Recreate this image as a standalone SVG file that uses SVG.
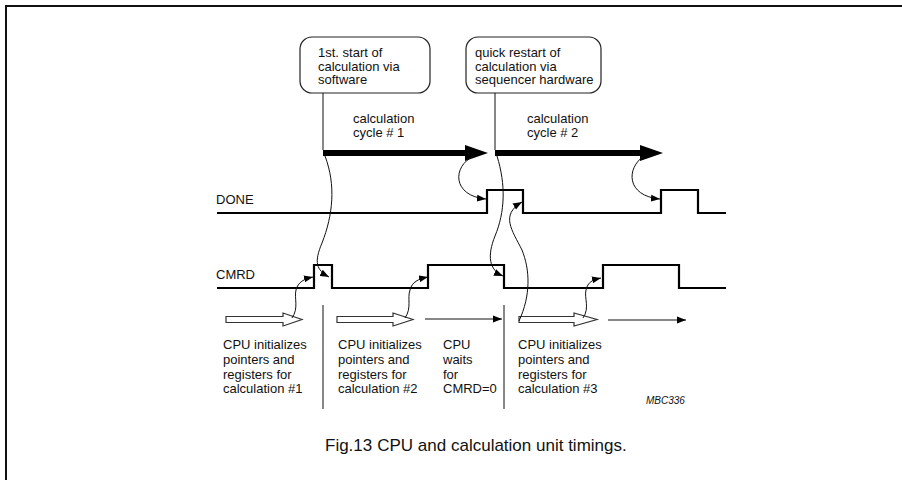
<svg xmlns="http://www.w3.org/2000/svg" width="902" height="480" viewBox="0 0 902 480">
<style>
text{font-family:"Liberation Sans",Arial,sans-serif;font-size:13px;fill:#111}
.box{fill:#fff;stroke:#222;stroke-width:1.2}
.sig{fill:none;stroke:#000;stroke-width:2.2}
.thin{fill:none;stroke:#111;stroke-width:1}
.cur{fill:none;stroke:#111;stroke-width:1;marker-end:url(#ah)}
.hol{fill:#fff;stroke:#333;stroke-width:1.2}
.thick{fill:none;stroke:#000;stroke-width:6}
</style>
<defs>
<marker id="ah" markerUnits="userSpaceOnUse" markerWidth="10" markerHeight="8" refX="9" refY="4" orient="auto">
<path d="M0,0.5 L9,4 L0,7.5 z" fill="#000"/>
</marker>
</defs>
<rect width="902" height="480" fill="#fff"/>
<g id="frame"><path d="M6,480 V6 H902" fill="none" stroke="#111" stroke-width="2"/></g>

<g id="box1"><rect class="box" x="300" y="37" width="130" height="56" rx="12"/>
<text x="318" y="57">1st. start of</text><text x="318" y="70.5">calculation via</text><text x="318" y="84">software</text></g>
<g id="box2"><rect class="box" x="466" y="37" width="135" height="56" rx="12"/>
<text x="475" y="57">quick restart of</text><text x="475" y="70.5">calculation via</text><text x="475" y="84">sequencer hardware</text></g>

<g id="cycle1"><text x="353" y="123">calculation</text><text x="353" y="137">cycle # 1</text>
<path class="thick" d="M323,153 H468"/><path d="M465,145 L488,153 L465,161 z" fill="#000"/></g>
<g id="cycle2"><text x="527" y="123">calculation</text><text x="527" y="137">cycle # 2</text>
<path class="thick" d="M495,153 H643"/><path d="M640,145 L663,153 L640,161 z" fill="#000"/></g>

<g id="done"><text x="216" y="204">DONE</text>
<path class="sig" d="M217,213 H487 V190 H523 V213 H661 V190 H698 V213 H726"/></g>
<g id="cmrd"><text x="216" y="279">CMRD</text>
<path class="sig" d="M217,288 H314 V265 H332 V288 H428 V265 H504 V288 H603 V265 H679 V288 H726"/></g>

<g id="cpu1"><path class="hol" d="M226,316.5 H283 V313 L302,319.5 L283,326 V322.5 H226 z"/>
<text x="223" y="349">CPU initializes</text><text x="223" y="364">pointers and</text><text x="223" y="378.5">registers for</text><text x="223" y="393">calculation #1</text></g>
<g id="cpu2"><path class="hol" d="M337,316.5 H393 V313 L413,319.5 L393,326 V322.5 H337 z"/>
<text x="338" y="349">CPU initializes</text><text x="338" y="364">pointers and</text><text x="338" y="378.5">registers for</text><text x="338" y="393">calculation #2</text></g>
<g id="wait"><text x="443" y="349">CPU</text><text x="443" y="364">waits</text><text x="443" y="378.5">for</text><text x="443" y="393">CMRD=0</text></g>
<g id="cpu3"><path class="hol" d="M519,316.5 H574 V313 L597,319.5 L574,326 V322.5 H519 z"/>
<text x="518" y="349">CPU initializes</text><text x="518" y="364">pointers and</text><text x="518" y="378.5">registers for</text><text x="518" y="393">calculation #3</text></g>

<g id="connectors">
<path class="thin" d="M323,93 V150"/>
<path class="thin" d="M495,93 V150"/>
<path class="thin" d="M323,305 V409"/>
<path class="thin" d="M504,305 V409"/>
<path class="cur" d="M425,319 H502"/>
<path class="cur" d="M608,320 H686"/>
<path class="cur" d="M325,156 C336,185 333,215 322,243 C314,262 316,270 329,277"/>
<path class="cur" d="M474,156 C452,166 452,196 486,199"/>
<path class="cur" d="M644,156 C626,168 626,196 660,199"/>
<path class="cur" d="M497,156 C506,185 505,212 495,236 C487,256 489,270 503,276"/>
<path class="cur" d="M519,321 C531,295 530,270 522,250 C512,230 500,215 522,202"/>
<path class="cur" d="M292,318 C299,308 294,298 296,290 C298,282 304,279 313,277"/>
<path class="cur" d="M405,318 C412,308 407,298 410,290 C412,282 418,279 428,277"/>
<path class="cur" d="M583,318 C590,308 584,298 586,290 C588,282 592,280 601,278"/>
</g>

<text x="646" y="404" style="font-size:10px;font-style:italic">MBC336</text>
<text x="325" y="451" style="font-size:17px">Fig.13<tspan dx="5">CPU and calculation unit timings.</tspan></text>
</svg>
